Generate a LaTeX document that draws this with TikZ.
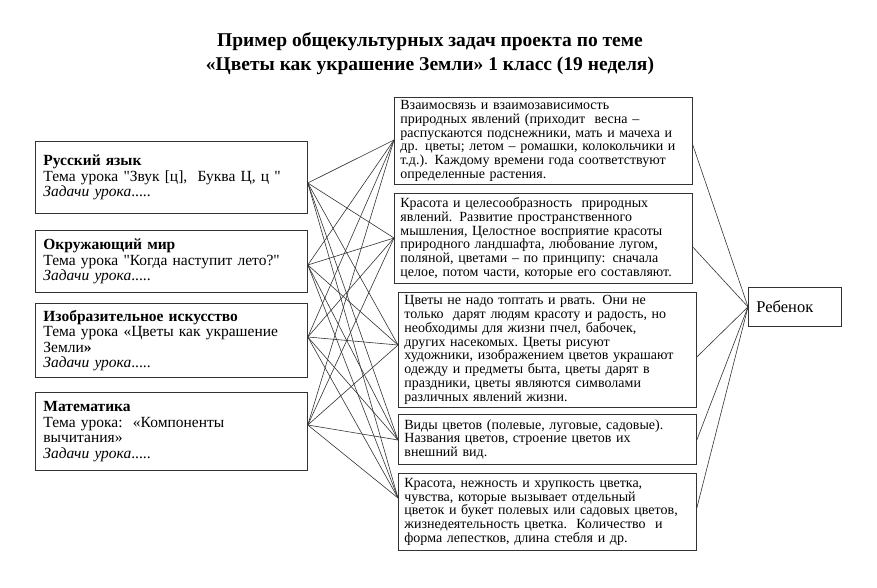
\documentclass[tikz,border=0pt]{standalone}
\usepackage{fontspec}
\setmainfont{Liberation Serif}
\newfontfamily\plainserif{Liberation Serif}
\newcommand{\q}{{\plainserif"}}
\begin{document}
\begin{tikzpicture}[x=1pt,y=-1pt,
 box/.style={draw=black!80, line width=0.8pt, anchor=north west, align=left, inner xsep=8pt, inner ysep=4pt},
 lbox/.style={box, font=\fontsize{15.5}{15.5}\selectfont, text width=256pt},
 mbox/.style={box, font=\fontsize{14}{13.8}\selectfont, text width=286pt, inner xsep=6pt, inner ysep=3pt},
 ln/.style={draw=black!80, line width=0.6pt}]
\useasboundingbox (0,0) rectangle (877,588);
\node[font=\bfseries\fontsize{19.5}{24}\selectfont, align=center] (t) at (430,54) {Пример общекультурных задач проекта по теме\\«Цветы как украшение Земли» 1 класс (19 неделя)};
\node[lbox, minimum height=72pt] (l1) at (35,141) {\textbf{Русский язык}\\Тема урока \q Звук [ц],\ \ Буква Ц, ц \q\\\textit{Задачи урока}.....};
\node[lbox, minimum height=62pt] (l2) at (35,230) {\textbf{Окружающий мир}\\Тема урока \q Когда наступит лето?\q\\\textit{Задачи урока}.....};
\node[lbox, minimum height=74pt] (l3) at (35,303) {\textbf{Изобразительное искусство}\\Тема урока «Цветы как украшение\\Земли\textbf{»}\\\textit{Задачи урока}.....};
\node[lbox, minimum height=78pt] (l4) at (35,392) {\textbf{Математика}\\Тема урока:\ \ «Компоненты\\вычитания»\\\textit{Задачи урока}.....};
\node[mbox, minimum height=86pt] (m1) at (394,97) {Взаимосвязь и взаимозависимость\\природных явлений (приходит\ \ весна –\\распускаются\ подснежники, мать и мачеха и\\др. цветы; летом – ромашки, колокольчики и\\т.д.). Каждому времени года соответствуют\\определенные растения.};
\node[mbox, minimum height=90pt] (m2) at (394,193) {Красота и целесообразность\ \ природных\\явлений. Развитие пространственного\\мышления, Целостное\ восприятие красоты\\природного ландшафта,\ любование лугом,\\поляной, цветами – по принципу: сначала\\целое, потом части, которые его составляют.};
\node[mbox, minimum height=113pt] (m3) at (398,292) {Цветы не надо топтать и рвать. Они не\\только\ \ дарят людям красоту и радость, но\\необходимы для жизни пчел, бабочек,\\других насекомых.\ Цветы рисуют\\художники, изображением цветов украшают\\одежду и предметы\ быта, цветы дарят в\\праздники, цветы являются\ символами\\различных явлений жизни.};
\node[mbox, minimum height=50pt] (m4) at (398,414) {Виды цветов (полевые, луговые,\ садовые).\\Названия цветов, строение цветов их\\внешний вид.};
\node[mbox, minimum height=77pt] (m5) at (398,473) {Красота, нежность и хрупкость цветка,\\чувства, которые вызывает\ отдельный\\цветок и букет полевых или садовых\ цветов,\\жизнедеятельность\ цветка.\ \ Количество\ \ и\\форма лепестков, длина стебля и др.};
\node[draw=black!80, line width=0.8pt, anchor=north west, minimum width=93pt, minimum height=39pt, font=\fontsize{16.5}{17}\selectfont, inner xsep=8pt, inner ysep=4pt, align=left, text width=77pt] (r) at (748,287) {Ребенок\\[7pt]};
\foreach \l/\ly in {l1/183,l2/265,l3/337,l4/425}{
 \foreach \m/\my in {m1/140,m2/238,m3/345,m4/440,m5/498}{
  \draw[ln] (\l.east |- 0,\ly) -- (\m.west |- 0,\my);
 }}
\foreach \m/\my in {m1/145,m2/247,m3/357,m4/440,m5/508}{
 \draw[ln] (\m.east |- 0,\my) -- (r.west);
}
\end{tikzpicture}
\end{document}
